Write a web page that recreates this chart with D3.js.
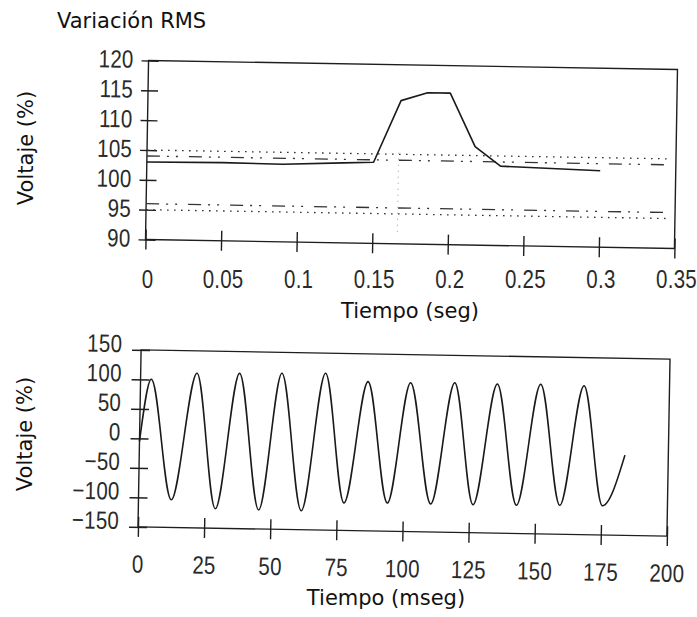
<!DOCTYPE html>
<html>
<head>
<meta charset="utf-8">
<script src="https://cdn.jsdelivr.net/npm/d3@7"></script>
<style>
  body { margin: 0; background: #fff; }
  .axis .tick text { font-family: "Liberation Sans", sans-serif; font-size: 25px; fill: #2a2a2a; letter-spacing: 0.3px; }
  .label { font-family: "DejaVu Sans", sans-serif; font-size: 21px; fill: #111; }
</style>
</head>
<body>
<svg id="chart" width="697" height="617"></svg>
<script>
// --- RMS panel (top) ---
var rmsTime = [0, 0.05, 0.09, 0.13, 0.15, 0.1675, 0.185, 0.2, 0.217, 0.234, 0.30];
var rmsVolt = [103.0, 103.1, 103.0, 103.4, 103.6, 114.0, 115.4, 115.4, 106.5, 103.3, 102.8];
var rmsTicksX = [0, 0.05, 0.1, 0.15, 0.2, 0.25, 0.3, 0.35];
var rmsTicksY = [90, 95, 100, 105, 110, 115, 120];
var outerLimits = [105, 95];   // dotted
var innerLimits = [104, 96];   // dash-dot
var limitSpan = [0, 0.345];
var eventTime = 0.1665;
var eventRange = [92, 105.7];

// --- waveform panel (bottom) ---
var waveTime = [0, 4.05, 12.4, 21.3, 29.1, 37.4, 45.5, 53.4, 61.6, 69.9, 77.7, 86.0, 94.1,
                102.1, 110.5, 118.8, 126.5, 134.9, 142.9, 151.3, 159.3, 167.7, 175.4, 183.6];
var waveVolt = [-5, 100.5, -103.0, 112.0, -116.9, 113.2, -117.8, 114.6, -117.8, 115.8, -103.4, 102.9, -102.2,
                102.4, -102.6, 103.7, -102.6, 102.7, -102.2, 103.6, -101.0, 102.4, -100.4, -14];
var waveTicksX = [0, 25, 50, 75, 100, 125, 150, 175, 200];
var waveTicksY = [-150, -100, -50, 0, 50, 100, 150];

var svg = d3.select("#chart");
svg.append("rect").attr("width", 697).attr("height", 617).attr("fill", "#fff");

var narrow = 0.82; // squeeze tick digits to look like the condensed plot font

function panel(o) {
	var x = d3.scaleLinear().domain(o.xDomain).range([o.left, o.right]);
	var y = d3.scaleLinear().domain(o.yDomain).range([o.bottom, o.top]);
	var cx = (o.left + o.right) / 2, cy = (o.top + o.bottom) / 2;
	var g = svg.append("g").attr("transform", "rotate(" + o.tilt + "," + cx + "," + cy + ")");

	g.append("rect")
		.attr("x", o.left).attr("y", o.top)
		.attr("width", o.right - o.left).attr("height", o.bottom - o.top)
		.attr("fill", "none").attr("stroke", "#1e1e1e").attr("stroke-width", 1.4);

	var fmt = d3.format("");

	// y axis: ticks cross the axis line
	var gy = g.append("g")
		.attr("class", "axis")
		.attr("color", "#1e1e1e")
		.attr("transform", "translate(" + o.left + ",0)")
		.call(d3.axisLeft(y).tickValues(o.yTicks).tickFormat(fmt).tickSize(o.yTickOut).tickPadding(o.yPad));
	gy.select(".domain").remove();
	gy.selectAll(".tick line").attr("x1", o.yTickIn).attr("stroke-width", 1.4);
	gy.selectAll(".tick text")
		.attr("dy", o.yDy)
		.attr("x", -(o.yTickOut + o.yPad) / narrow)
		.attr("transform", "scale(" + narrow + ",1)");

	// x axis tick marks
	var gx = g.append("g")
		.attr("class", "axis")
		.attr("color", "#1e1e1e")
		.attr("transform", "translate(0," + o.bottom + ")")
		.call(d3.axisBottom(x).tickValues(o.xTicks).tickFormat(fmt).tickSize(10).tickPadding(o.xPad));
	gx.select(".domain").remove();
	gx.selectAll(".tick line").attr("y1", -10).attr("stroke-width", 1.4);
	gx.selectAll(".tick text").attr("transform", "scale(" + narrow + ",1)");

	// x labels: either follow the tilted frame or stay level
	if (!o.tiltXLabels) {
		gx.selectAll(".tick text").remove();
		var gl = svg.append("g")
			.attr("class", "axis")
			.attr("transform", "translate(0," + o.bottom + ")")
			.call(d3.axisBottom(x).tickValues(o.xTicks).tickFormat(fmt).tickSize(0).tickPadding(o.xPad));
		gl.select(".domain").remove();
		gl.selectAll(".tick text").attr("transform", "scale(" + narrow + ",1)");
	}

	svg.append("text")
		.attr("class", "label")
		.attr("text-anchor", "middle")
		.attr("x", o.xTitlePos[0]).attr("y", o.xTitlePos[1])
		.text(o.xTitle);

	svg.append("text")
		.attr("class", "label")
		.attr("text-anchor", "middle")
		.attr("transform", "translate(" + o.yTitlePos[0] + "," + o.yTitlePos[1] + ") rotate(-90)")
		.text("Voltaje (%)");

	return { g: g, x: x, y: y };
}

// ---- top: RMS variation ----
var rmsPanel = panel({
	left: 147, right: 676, top: 65, bottom: 244, tilt: 0.97,
	xDomain: [0, 0.35], yDomain: [90, 120],
	xTicks: rmsTicksX, yTicks: rmsTicksY,
	yTickOut: 7, yTickIn: 10, yPad: 8, yDy: "0.28em",
	xPad: 26, tiltXLabels: false,
	xTitle: "Tiempo (seg)", xTitlePos: [410, 318], yTitlePos: [33, 148]
});

svg.append("text")
	.attr("class", "label")
	.attr("x", 57).attr("y", 28)
	.text("Variación RMS");

outerLimits.forEach(function (v) {
	rmsPanel.g.append("line")
		.attr("x1", rmsPanel.x(limitSpan[0])).attr("x2", rmsPanel.x(limitSpan[1]))
		.attr("y1", rmsPanel.y(v)).attr("y2", rmsPanel.y(v))
		.attr("stroke", "#333").attr("stroke-width", 1.3)
		.attr("stroke-dasharray", "1.6,5.4");
});
innerLimits.forEach(function (v) {
	rmsPanel.g.append("line")
		.attr("x1", rmsPanel.x(limitSpan[0])).attr("x2", rmsPanel.x(limitSpan[1]))
		.attr("y1", rmsPanel.y(v)).attr("y2", rmsPanel.y(v))
		.attr("stroke", "#333").attr("stroke-width", 1.3)
		.attr("stroke-dasharray", "13,7,2,7,2,11");
});

rmsPanel.g.append("line")
	.attr("x1", rmsPanel.x(eventTime)).attr("x2", rmsPanel.x(eventTime))
	.attr("y1", rmsPanel.y(eventRange[0])).attr("y2", rmsPanel.y(eventRange[1]))
	.attr("stroke", "#999").attr("stroke-width", 1)
	.attr("stroke-dasharray", "1,5");

var rmsLine = d3.line()
	.x(function (d, i) { return rmsPanel.x(rmsTime[i]); })
	.y(function (d) { return rmsPanel.y(d); });

rmsPanel.g.append("path")
	.attr("d", rmsLine(rmsVolt))
	.attr("fill", "none").attr("stroke", "#1a1a1a").attr("stroke-width", 1.6)
	.attr("stroke-linejoin", "round");

// ---- bottom: waveform ----
var wavePanel = panel({
	left: 139.5, right: 668.5, top: 354.5, bottom: 531.5, tilt: 1.0,
	xDomain: [0, 200], yDomain: [-150, 150],
	xTicks: waveTicksX, yTicks: waveTicksY,
	yTickOut: 9, yTickIn: 9, yPad: 10, yDy: "0.08em",
	xPad: 18, tiltXLabels: true,
	xTitle: "Tiempo (mseg)", xTitlePos: [386, 605], yTitlePos: [32, 434]
});

var waveLine = d3.line()
	.curve(d3.curveMonotoneX)
	.x(function (d, i) { return wavePanel.x(waveTime[i]); })
	.y(function (d) { return wavePanel.y(d); });

wavePanel.g.append("path")
	.attr("d", waveLine(waveVolt))
	.attr("fill", "none").attr("stroke", "#1a1a1a").attr("stroke-width", 1.6);
</script>
</body>
</html>
